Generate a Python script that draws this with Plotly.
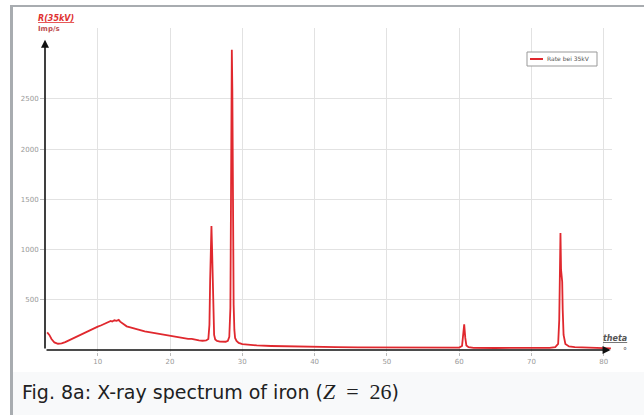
import plotly.graph_objects as go

W, H = 644, 415

# ---- data ----
theta = [3.0, 3.3, 3.6, 4.0, 4.5, 5.0, 5.5, 6.0, 6.5, 7.0, 7.5, 8.0, 8.5, 9.0, 9.5,
         10.0, 10.5, 11.0, 11.5, 11.8, 12.0, 12.3, 12.6, 12.9, 13.1, 13.4, 13.7, 14.0,
         14.5, 15.0, 15.5, 16.0, 16.5, 17.0, 17.5, 18.0, 18.5, 19.0, 19.5, 20.0, 20.5,
         21.0, 21.5, 22.0, 22.5, 23.0, 23.5, 24.0, 24.5, 25.0, 25.3, 25.45, 25.55,
         25.65, 25.73, 25.8, 25.9, 26.0, 26.1, 26.25, 26.5, 26.9, 27.3, 27.7, 28.0,
         28.2, 28.35, 28.45, 28.55, 28.62, 28.7, 28.8, 28.9, 29.0, 29.2, 29.5, 30.0,
         31.0, 32.0, 34.0, 36.0, 38.0, 40.0, 43.0, 46.0, 50.0, 54.0, 58.0, 60.0, 60.4,
         60.55, 60.7, 60.85, 61.0, 61.3, 62.0, 65.0, 68.0, 71.0, 72.5, 73.3, 73.7,
         73.85, 73.95, 74.02, 74.1, 74.18, 74.26, 74.33, 74.45, 74.7, 75.2, 76.0,
         78.0, 80.0, 81.0]
rate = [175, 150, 110, 75, 62, 65, 78, 95, 115, 135, 152, 170, 186, 200, 216,
        232, 246, 262, 282, 290, 284, 296, 290, 300, 282, 268, 248, 236,
        226, 214, 204, 196, 186, 180, 170, 164, 156, 150, 148, 140, 134,
        128, 122, 118, 110, 110, 100, 96, 92, 95, 110, 250, 700,
        1150, 1235, 1050, 600, 280, 150, 105, 90, 84, 80, 82, 92,
        130, 420, 1500, 2990, 2600, 1300, 450, 200, 120, 90, 70, 58,
        50, 45, 40, 36, 33, 30, 28, 26, 24, 22, 22, 24, 40,
        120, 255, 120, 45, 28, 22, 20, 20, 21, 22, 28, 60,
        300, 900, 1165, 800, 690, 680, 400, 150, 60, 35, 28,
        22, 18, 16]

series_name = "Rate bei 35kV"
x_ticks = [10, 20, 30, 40, 50, 60, 70, 80]
y_ticks = [500, 1000, 1500, 2000, 2500]
x_range = [2.7, 81.15]
y_range = [-20, 3207]

LINE_COLOR = "#e0282e"

# ---- helpers: pixel -> paper ----
def px(x):
    return x / W

def py(y):
    return 1 - y / H

fig = go.Figure()
fig.add_trace(go.Scatter(
    x=theta, y=rate, mode="lines", name=series_name,
    line=dict(color=LINE_COLOR, width=1.8),
))

fig.update_layout(
    width=W, height=H,
    margin=dict(l=0, r=0, t=0, b=0),
    paper_bgcolor="white", plot_bgcolor="white",
    showlegend=False,
    xaxis=dict(
        domain=[px(45), px(612)], range=x_range,
        tickmode="array", tickvals=x_ticks,
        showgrid=True, gridcolor="#e2e2e2", gridwidth=1,
        zeroline=False, showline=False,
        ticks="outside", ticklen=3, tickcolor="#bbbbbb",
        tickfont=dict(size=7, color="#999999", family="DejaVu Sans"),
    ),
    yaxis=dict(
        domain=[py(352), py(28)], range=y_range,
        tickmode="array", tickvals=y_ticks,
        showgrid=True, gridcolor="#e2e2e2", gridwidth=1,
        zeroline=False, showline=False,
        ticks="outside", ticklen=4, tickcolor="#bbbbbb",
        tickfont=dict(size=7, color="#999999", family="DejaVu Sans"),
    ),
)

shapes = [
    # caption area
    dict(type="rect", xref="paper", yref="paper", x0=px(12), x1=1, y0=0, y1=py(372),
         fillcolor="#f8f9fa", line=dict(width=0), layer="below"),
    # left frame bar
    dict(type="rect", xref="paper", yref="paper", x0=px(10), x1=px(13), y0=0, y1=py(5),
         fillcolor="#a8acb0", line=dict(width=0)),
    # top frame line
    dict(type="rect", xref="paper", yref="paper", x0=px(10), x1=1, y0=py(7), y1=py(5),
         fillcolor="#a8acb0", line=dict(width=0)),
    # legend box
    dict(type="rect", xref="paper", yref="paper", x0=px(527), x1=px(597), y0=py(66), y1=py(52),
         fillcolor="white", line=dict(color="#999999", width=1)),
    # legend sample line
    dict(type="line", xref="paper", yref="paper", x0=px(530), x1=px(543), y0=py(59), y1=py(59),
         line=dict(color=LINE_COLOR, width=2)),
]
fig.update_layout(shapes=shapes)

ann = []
# axes as arrows
ann.append(dict(x=x_range[1] - 0.2, y=0, ax=x_range[0], ay=0, xref="x", yref="y",
                axref="x", ayref="y", showarrow=True, arrowhead=2, arrowsize=1,
                arrowwidth=1.6, arrowcolor="#111111", text=""))
ann.append(dict(x=x_range[0], y=3090, ax=x_range[0], ay=0, xref="x", yref="y",
                axref="x", ayref="y", showarrow=True, arrowhead=2, arrowsize=1,
                arrowwidth=1.6, arrowcolor="#111111", text=""))
# legend text
ann.append(dict(x=px(545), y=py(59), xref="paper", yref="paper", showarrow=False,
                xanchor="left", yanchor="middle", text=series_name,
                font=dict(size=6, color="#555555", family="DejaVu Sans")))
# y title
ann.append(dict(x=px(36), y=py(12), xref="paper", yref="paper", showarrow=False,
                text="<b><i><u>R(35kV)</u></i></b>",
                font=dict(size=8, color="#e03030", family="DejaVu Sans")))
ann.append(dict(x=px(36), y=py(23), xref="paper", yref="paper", showarrow=False,
                text="<b>Imp/s</b>",
                font=dict(size=7, color="#c05050", family="DejaVu Sans")))
# x title
ann.append(dict(x=px(629), y=py(345), xref="paper", yref="paper", showarrow=False,
                text="<b><i><u>theta</u></i></b>",
                font=dict(size=8, color="#555555", family="DejaVu Sans")))
ann.append(dict(x=px(629), y=py(358), xref="paper", yref="paper", showarrow=False,
                text="°", font=dict(size=8, color="#555555", family="DejaVu Sans")))
# caption
ann.append(dict(x=px(20), y=py(391), xref="paper", yref="paper", showarrow=False,
                xanchor="left", yanchor="middle",
                text="Fig. 8a: X-ray spectrum of iron (<span style='font-family:Liberation Serif;font-size:22px'><i>Z</i>&nbsp;&nbsp;=&nbsp;&nbsp;26</span>)",
                font=dict(size=19, color="#202122", family="DejaVu Sans")))
fig.update_layout(annotations=ann)

fig.write_html("out.html", post_script="document.body.style.margin='0';",
               config=dict(displayModeBar=False))
